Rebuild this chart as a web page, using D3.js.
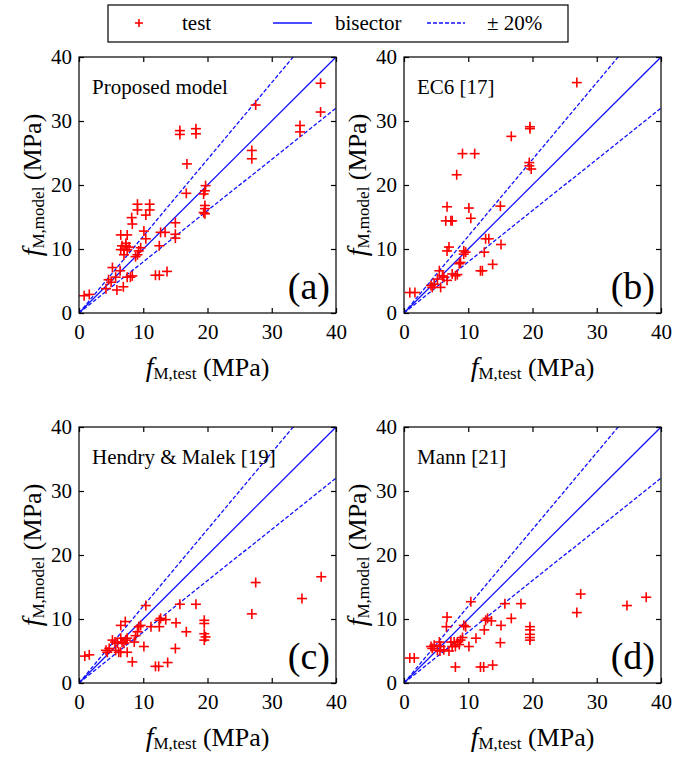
<!DOCTYPE html>
<meta charset="utf-8">
<style>
body { margin: 0; background: #fff; }
text { font-family: "Liberation Serif", serif; fill: #000; }
.frame { fill: none; stroke: #000; stroke-width: 1.2px; }
.axis path { display: none; }
.axis line { stroke: #000; stroke-width: 1.2px; }
.axis text { font-size: 21px; font-family: "Liberation Serif", serif; }
.ref { fill: none; stroke: #1010ff; stroke-width: 1.3px; }
.band { stroke-dasharray: 4,2; }
.pt { stroke: #ff0000; stroke-width: 1.6px; }
</style>
<script src="https://cdn.jsdelivr.net/npm/d3@7"></script>
<body>
<script>

var width = 675,
    height = 757;

// tick values shared by both axes
var ticks = [0, 10, 20, 30, 40];

var names = ["Proposed model", "EC6 [17]", "Hendry & Malek [19]", "Mann [21]"];
var tags = ["(a)", "(b)", "(c)", "(d)"];

// f_M,test vs f_M,model (MPa)
var proposed = [[0.8,2.7],[1.6,2.9],[4.2,3.8],[5.9,3.6],[6.9,4.1],[4.6,5.2],[5.0,4.8],[5.7,5.6],
  [6.4,6.6],[5.2,7.1],[7.5,5.6],[8.0,5.6],[8.3,5.8],[11.9,5.9],[12.5,5.9],[13.7,6.5],[6.5,12.2],
  [7.5,12.2],[6.7,10.5],[7.3,10.5],[6.5,9.9],[7.0,9.9],[7.5,9.9],[7.8,10.3],[7.3,10.9],[7.0,9.1],
  [8.8,8.8],[9.1,9.1],[9.3,9.7],[9.6,10.2],[10.4,11.6],[10.1,12.8],[8.3,13.9],[8.2,14.9],[9.1,16.1],
  [9.1,17.0],[11.0,16.1],[11.0,17.0],[10.4,15.3],[12.5,10.5],[12.7,12.6],[13.4,12.6],[15.0,14.1],
  [15.0,12.3],[15.0,11.7],[16.7,18.7],[15.7,28.5],[15.7,27.9],[18.2,28.8],[18.2,28.0],[16.8,23.3],
  [19.7,19.9],[19.6,19.1],[19.4,18.6],[19.6,16.8],[19.6,16.3],[19.6,15.5],[19.4,15.7],[27.5,32.5],
  [26.9,25.4],[26.9,24.1],[34.4,29.3],[34.4,28.3],[37.6,35.9],[37.6,31.4]];

var ec6 = [[0.9,3.2],[1.7,3.2],[4.2,4.3],[4.7,4.5],[4.4,4.0],[5.2,5.3],[5.7,4.0],[5.5,6.6],[6.0,5.8],
  [6.2,5.6],[6.7,5.1],[7.5,6.1],[8.0,5.8],[8.3,6.0],[8.6,7.7],[8.8,7.9],[6.7,9.7],[7.0,10.3],[9.3,9.7],
  [9.6,9.5],[9.3,9.2],[11.9,6.6],[12.2,6.6],[13.8,7.6],[12.5,9.5],[12.7,11.6],[13.2,11.6],[15.1,10.7],
  [6.7,16.6],[6.5,14.4],[7.3,14.4],[7.5,14.4],[10.1,16.4],[10.4,14.8],[15.0,16.7],[8.2,21.6],[9.1,24.9],
  [11.0,24.9],[16.7,27.6],[19.6,29.1],[19.6,28.8],[19.5,23.5],[19.5,23.0],[19.8,22.5],[26.9,36.0]];

var hendry = [[0.9,4.2],[1.6,4.4],[4.2,5.1],[4.7,5.4],[4.4,4.8],[5.2,6.7],[5.6,6.4],[6.0,6.2],[5.7,5.1],
  [6.2,4.8],[6.5,7.0],[6.7,6.4],[7.0,6.2],[7.3,6.7],[7.5,7.0],[6.5,9.0],[7.2,9.6],[6.5,4.8],[7.5,4.8],
  [8.3,3.3],[8.6,6.4],[8.8,7.4],[9.1,8.0],[9.3,8.8],[9.6,9.0],[10.4,12.1],[10.1,5.7],[11.2,8.8],
  [12.5,9.8],[12.7,10.1],[13.5,9.9],[12.5,8.8],[11.9,2.6],[12.4,2.6],[13.8,3.2],[15.0,5.4],[15.1,9.4],
  [16.7,8.0],[15.7,12.3],[18.2,12.3],[19.5,9.8],[19.5,9.3],[19.5,7.7],[19.7,7.2],[19.5,6.7],[27.5,15.7],
  [26.9,10.8],[34.7,13.2],[37.7,16.6]];

var mann = [[0.9,3.9],[1.6,3.9],[4.2,5.7],[4.7,5.9],[4.4,5.4],[5.5,6.4],[5.7,5.7],[5.2,5.1],[6.7,10.3],
  [6.6,8.8],[7.3,6.4],[7.8,6.4],[8.3,6.4],[7.5,5.7],[8.0,5.7],[8.6,6.0],[8.8,6.7],[9.1,7.1],[7.0,5.0],
  [6.2,5.2],[5.6,5.0],[9.3,9.0],[9.6,8.8],[10.4,12.7],[10.1,5.7],[11.2,7.0],[12.5,8.3],[12.7,9.8],
  [13.0,10.1],[13.6,9.7],[8.0,2.5],[11.9,2.5],[12.4,2.5],[13.8,2.8],[15.0,6.3],[15.1,9.0],[16.7,10.1],
  [15.7,12.4],[18.2,12.4],[19.6,8.8],[19.6,8.3],[19.6,7.6],[19.6,7.1],[19.6,6.7],[27.5,13.9],[26.9,11.0],
  [34.7,12.1],[37.7,13.4]];

var series = [proposed, ec6, hendry, mann];

// bisector and +-20% lines (slope)
var slopes = [1, 1.2, 0.8];

var pw = 257, ph = 256;
var origins = [[79, 57], [404, 57], [79, 427], [404, 427]];

var svg = d3.select("body")
  .append("svg")
  .attr("width", width)
  .attr("height", height);

var x = d3.scaleLinear().domain([0, 40]).range([0, pw]);
var y = d3.scaleLinear().domain([0, 40]).range([ph, 0]);

svg.append("defs")
  .append("clipPath").attr("id", "clip")
  .append("rect").attr("width", pw).attr("height", ph);

var line = d3.line()
  .x(function (d) { return x(d[0]); })
  .y(function (d) { return y(d[1]); });

series.forEach(function (data, i) {
  var g = svg.append("g")
    .attr("transform", "translate(" + origins[i][0] + "," + origins[i][1] + ")");

  // axes, ticks pointing inward on all four sides
  g.append("g").attr("class", "axis")
    .attr("transform", "translate(0," + ph + ")")
    .call(d3.axisBottom(x).tickValues(ticks).tickSizeInner(-5).tickSizeOuter(0).tickPadding(11));
  g.append("g").attr("class", "axis")
    .call(d3.axisTop(x).tickValues(ticks).tickSizeInner(-5).tickSizeOuter(0).tickFormat(""));
  g.append("g").attr("class", "axis")
    .call(d3.axisLeft(y).tickValues(ticks).tickSizeInner(-5).tickSizeOuter(0).tickPadding(7));
  g.append("g").attr("class", "axis")
    .attr("transform", "translate(" + pw + ",0)")
    .call(d3.axisRight(y).tickValues(ticks).tickSizeInner(-5).tickSizeOuter(0).tickFormat(""));

  var plot = g.append("g").attr("clip-path", "url(#clip)");

  plot.selectAll(".ref")
    .data(slopes)
    .enter()
      .append("path")
      .attr("class", function (s) { return s === 1 ? "ref" : "ref band"; })
      .attr("d", function (s) { return line([[0, 0], [50, 50 * s]]); });

  var pts = plot.selectAll(".pt")
    .data(data)
    .enter()
      .append("g")
      .attr("transform", function (d) { return "translate(" + x(d[0]) + "," + y(d[1]) + ")"; });
  pts.append("line").attr("class", "pt").attr("x1", -5).attr("x2", 5);
  pts.append("line").attr("class", "pt").attr("y1", -5).attr("y2", 5);

  g.append("rect").attr("class", "frame").attr("width", pw).attr("height", ph);

  g.append("text")
    .attr("x", 13)
    .attr("y", 37)
    .attr("font-size", "21px")
    .text(names[i]);

  g.append("text")
    .attr("x", pw - 6)
    .attr("y", ph - 14)
    .attr("text-anchor", "end")
    .attr("font-size", "38px")
    .text(tags[i]);

  // x title
  var xt = g.append("text")
    .attr("transform", "translate(" + (pw / 2) + "," + (ph + 63) + ")")
    .attr("text-anchor", "middle");
  xt.append("tspan").attr("font-style", "italic").attr("font-size", "28px").text("f");
  xt.append("tspan").attr("font-size", "17px").attr("dy", 3).text("M,test");
  xt.append("tspan").attr("font-size", "26px").attr("dy", -3).text(" (MPa)");

  // y title
  var yt = g.append("text")
    .attr("transform", "translate(" + (-38) + "," + (ph / 2) + ") rotate(-90)")
    .attr("text-anchor", "middle");
  yt.append("tspan").attr("font-style", "italic").attr("font-size", "28px").text("f");
  yt.append("tspan").attr("font-size", "17px").attr("dy", 3).text("M,model");
  yt.append("tspan").attr("font-size", "26px").attr("dy", -3).text(" (MPa)");
});

// legend
var legend = svg.append("g");
legend.append("rect")
  .attr("x", 108).attr("y", 5)
  .attr("width", 460).attr("height", 37)
  .attr("fill", "none").attr("stroke", "#000").attr("stroke-width", 1.2);

var lg = legend.append("g").attr("transform", "translate(139,23)");
lg.append("line").attr("class", "pt").attr("x1", -4).attr("x2", 4);
lg.append("line").attr("class", "pt").attr("y1", -4).attr("y2", 4);

legend.append("line").attr("class", "ref").attr("x1", 273).attr("x2", 312).attr("y1", 23).attr("y2", 23);
legend.append("line").attr("class", "ref band").attr("x1", 427).attr("x2", 465).attr("y1", 23).attr("y2", 23);

var legendText = [["test", 182], ["bisector", 335], ["\u00b1 20%", 487]];
legend.selectAll(".lt")
  .data(legendText)
  .enter()
    .append("text")
    .attr("x", function (d) { return d[1]; })
    .attr("y", 30)
    .attr("font-size", "21px")
    .text(function (d) { return d[0]; });

</script>
</body>
